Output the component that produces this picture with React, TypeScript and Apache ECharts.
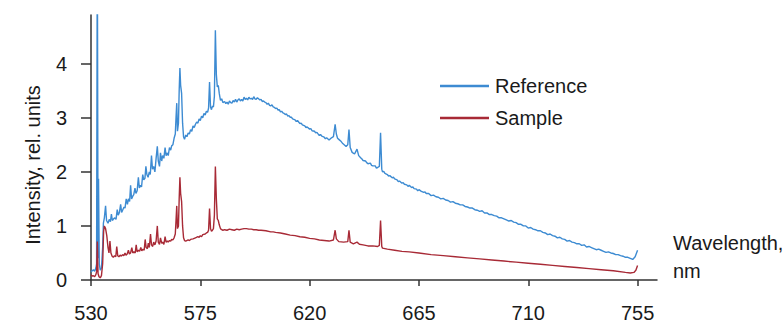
import React, { useEffect, useRef } from "react";
import * as echarts from "echarts";

const seriesNames = ["Reference", "Sample"];
const xTickValues = [530, 575, 620, 665, 710, 755];
const yTickValues = [0, 1, 2, 3, 4];

// [wavelength nm, intensity rel. units]
const reference: [number, number][] = [
  [530, 0.15], [530.5, 0.17], [531, 0.19], [531.5, 0.16], [532, 0.22], [532.3, 0.3], [532.6, 6.5], [532.9, 0.4],
  [533.1, 1.87], [533.4, 0.3], [533.8, 0.18], [534.3, 0.22], [534.8, 0.6], [535.1, 1.05], [535.5, 1.15], [536, 1.37],
  [536.4, 1.1], [537, 1.05], [537.5, 1.12], [538, 1.08], [538.4, 1.22], [538.8, 1.1], [539.3, 1.13], [539.8, 1.15],
  [540.3, 1.12], [540.8, 1.3], [541.2, 1.2], [541.7, 1.25], [542.2, 1.4], [542.6, 1.25], [543.1, 1.3], [543.6, 1.35],
  [544, 1.33], [544.5, 1.5], [545, 1.4], [545.4, 1.5], [545.9, 1.45], [546.3, 1.75], [546.7, 1.5], [547.2, 1.55],
  [547.6, 1.58], [548.1, 1.7], [548.5, 1.6], [549, 1.65], [549.5, 1.9], [549.9, 1.7], [550.4, 1.75], [550.8, 1.72],
  [551.3, 1.95], [551.7, 1.85], [552.2, 1.88], [552.6, 2.1], [553, 1.95], [553.5, 1.9], [554, 2.0], [554.4, 1.95],
  [554.9, 2.3], [555.3, 2.05], [555.8, 2.1], [556.3, 2.0], [556.8, 2.25], [557.3, 2.47], [557.7, 2.2], [558.2, 2.1],
  [558.6, 2.35], [559.1, 2.2], [559.5, 2.3], [560, 2.25], [560.5, 2.45], [560.9, 2.3], [561.4, 2.35], [561.8, 2.3],
  [562.3, 2.45], [562.8, 2.4], [563.2, 2.48], [563.7, 2.5], [564.2, 2.62], [564.7, 2.7], [565, 3.0], [565.3, 3.27],
  [565.6, 2.75], [566, 2.9], [566.3, 3.5], [566.6, 3.92], [566.9, 3.6], [567.3, 3.45], [567.7, 2.9], [568.1, 2.65],
  [568.5, 2.6], [569, 2.68], [569.5, 2.65], [570, 2.72], [570.5, 2.7], [571, 2.78], [571.5, 2.75], [572, 2.85],
  [572.5, 2.82], [573, 2.88], [573.5, 2.92], [574, 2.9], [574.5, 2.98], [575, 2.95], [575.5, 3.03], [576, 3.0],
  [576.5, 3.08], [577, 3.05], [577.5, 3.12], [578, 3.1], [578.4, 3.18], [578.8, 3.66], [579.2, 3.2], [579.6, 3.15],
  [580, 3.22], [580.4, 3.2], [580.8, 3.4], [581.2, 4.62], [581.6, 3.8], [582, 3.57], [582.4, 3.6], [582.8, 3.45],
  [583.3, 3.32], [583.8, 3.35], [584.3, 3.28], [585, 3.3], [585.5, 3.26], [586, 3.29], [586.5, 3.25], [587, 3.31],
  [587.5, 3.28], [588, 3.27], [588.5, 3.32], [589, 3.29], [589.5, 3.34], [590, 3.29], [590.5, 3.33], [591, 3.35],
  [591.5, 3.31], [592, 3.34], [592.5, 3.31], [593, 3.38], [593.5, 3.34], [594, 3.36], [594.5, 3.33], [595, 3.38],
  [595.5, 3.35], [596, 3.36], [596.5, 3.34], [597, 3.39], [597.5, 3.35], [598, 3.34], [598.5, 3.37], [599, 3.35],
  [599.5, 3.33], [600, 3.34], [600.5, 3.3], [601, 3.31], [601.5, 3.29], [602, 3.28], [602.5, 3.25], [603, 3.27],
  [603.5, 3.23], [604, 3.22], [604.5, 3.24], [605, 3.2], [605.5, 3.19], [606, 3.17], [606.5, 3.18], [607, 3.14],
  [607.5, 3.15], [608, 3.11], [608.5, 3.12], [609, 3.09], [609.5, 3.08], [610, 3.06], [610.5, 3.07], [611, 3.03],
  [611.5, 3.04], [612, 3.01], [612.5, 3.01], [613, 2.98], [614, 2.96], [614.5, 2.93], [615, 2.95], [616, 2.89],
  [616.5, 2.9], [617, 2.87], [618, 2.85], [618.5, 2.82], [619, 2.83], [620, 2.79], [620.5, 2.8], [621, 2.76],
  [622, 2.75], [622.5, 2.72], [623, 2.73], [624, 2.67], [624.5, 2.69], [625, 2.66], [626, 2.64], [626.5, 2.61],
  [627, 2.63], [628, 2.59], [629, 2.63], [629.8, 2.65], [630.5, 2.88], [631, 2.7], [631.5, 2.62], [632, 2.6],
  [633, 2.56], [633.5, 2.53], [634, 2.51], [635, 2.47], [635.7, 2.5], [636.2, 2.78], [636.7, 2.45], [637.5, 2.36],
  [638.5, 2.33], [639.5, 2.42], [640.2, 2.3], [641, 2.26], [641.5, 2.24], [642, 2.21], [643, 2.2], [643.5, 2.17],
  [644, 2.15], [645, 2.16], [645.5, 2.12], [646, 2.11], [647, 2.11], [647.5, 2.07], [648, 2.08], [648.7, 2.1],
  [649.2, 2.72], [649.7, 2.05], [650, 2.0], [650.5, 2.01], [651, 1.97], [652, 1.95], [652.5, 1.92], [653, 1.93],
  [654, 1.89], [654.5, 1.9], [655, 1.87], [656, 1.85], [656.5, 1.82], [657, 1.83], [658, 1.79], [658.5, 1.8],
  [659, 1.77], [660, 1.76], [660.5, 1.73], [661, 1.75], [662, 1.71], [662.5, 1.72], [663, 1.69], [664, 1.68],
  [664.5, 1.65], [665, 1.67], [666, 1.64], [667, 1.62], [667.5, 1.63], [668, 1.6], [669, 1.6], [670, 1.56],
  [671, 1.57], [672, 1.54], [673, 1.53], [674, 1.5], [675, 1.51], [676, 1.48], [677, 1.47], [678, 1.44],
  [679, 1.45], [680, 1.42], [681, 1.41], [682, 1.39], [683, 1.39], [684, 1.36], [685, 1.35], [686, 1.33],
  [687, 1.33], [688, 1.3], [689, 1.29], [690, 1.27], [691, 1.28], [692, 1.24], [693, 1.24], [694, 1.21],
  [695, 1.21], [696, 1.19], [697, 1.18], [698, 1.15], [699, 1.15], [700, 1.13], [701, 1.11], [702, 1.09],
  [703, 1.1], [704, 1.07], [705, 1.06], [706, 1.03], [707, 1.03], [708, 1.0], [709, 1.0], [710, 0.96],
  [711, 0.97], [712, 0.94], [713, 0.93], [714, 0.91], [715, 0.91], [716, 0.88], [717, 0.87], [718, 0.84],
  [719, 0.85], [720, 0.82], [721, 0.81], [722, 0.78], [723, 0.79], [724, 0.76], [725, 0.75], [726, 0.72],
  [727, 0.73], [728, 0.7], [729, 0.69], [730, 0.67], [731, 0.67], [732, 0.64], [733, 0.65], [734, 0.61],
  [735, 0.62], [736, 0.6], [737, 0.58], [738, 0.56], [739, 0.57], [740, 0.55], [741, 0.53], [742, 0.51],
  [743, 0.52], [744, 0.5], [745, 0.49], [746, 0.47], [747, 0.47], [748, 0.45], [749, 0.44], [750, 0.42],
  [751, 0.42], [752, 0.4], [753, 0.38], [754, 0.43], [755, 0.55],
];

const sample: [number, number][] = [
  [530, 0.1], [530.5, 0.07], [531, 0.08], [531.5, 0.06], [532, 0.1], [532.3, 0.15], [532.6, 0.71], [532.9, 0.12],
  [533.3, 0.06], [533.8, 0.04], [534.3, 0.08], [534.8, 0.3], [535.2, 0.9], [535.5, 1.0], [536, 0.95], [536.5, 0.82],
  [537, 0.6], [537.4, 0.5], [537.8, 0.72], [538.2, 0.5], [538.7, 0.44], [539.2, 0.42], [539.7, 0.45], [540.2, 0.43],
  [540.6, 0.62], [541, 0.45], [541.5, 0.43], [542, 0.46], [542.5, 0.44], [543, 0.47], [543.5, 0.45], [544, 0.5],
  [544.4, 0.46], [544.9, 0.48], [545.4, 0.55], [545.8, 0.48], [546.3, 0.5], [546.8, 0.6], [547.2, 0.5], [547.7, 0.52],
  [548.2, 0.5], [548.6, 0.65], [549, 0.52], [549.5, 0.55], [550, 0.53], [550.5, 0.6], [550.9, 0.54], [551.4, 0.57],
  [551.9, 0.55], [552.3, 0.75], [552.7, 0.6], [553.2, 0.58], [553.6, 0.68], [554, 0.6], [554.5, 0.85], [554.9, 0.65],
  [555.4, 0.62], [555.8, 0.7], [556.3, 0.65], [556.8, 0.72], [557.3, 1.0], [557.7, 0.7], [558.2, 0.66], [558.6, 0.78],
  [559.1, 0.68], [559.5, 0.7], [560, 0.66], [560.5, 0.8], [560.9, 0.7], [561.4, 0.72], [561.8, 0.7], [562.3, 0.73],
  [562.8, 0.72], [563.2, 0.75], [563.7, 0.74], [564.2, 0.78], [564.7, 0.85], [565, 1.1], [565.3, 1.37], [565.6, 0.95],
  [566, 1.0], [566.3, 1.5], [566.6, 1.9], [566.9, 1.6], [567.3, 1.45], [567.7, 1.0], [568.1, 0.78], [568.5, 0.73],
  [569, 0.72], [570, 0.74], [570.5, 0.73], [571, 0.75], [572, 0.76], [573, 0.78], [574, 0.8], [574.5, 0.79],
  [575, 0.82], [575.5, 0.8], [576, 0.84], [577, 0.85], [577.5, 0.87], [578, 0.88], [578.4, 0.92], [578.8, 1.32],
  [579.2, 0.95], [579.6, 0.9], [580, 0.92], [580.4, 0.95], [580.8, 1.2], [581.2, 2.1], [581.6, 1.5], [582, 1.13],
  [582.4, 1.1], [582.8, 1.02], [583.3, 0.95], [583.8, 0.93], [584.3, 0.92], [585, 0.93], [586, 0.92], [587, 0.94],
  [588, 0.93], [589, 0.92], [590, 0.94], [591, 0.93], [592, 0.94], [593, 0.95], [594, 0.95], [595, 0.94],
  [596, 0.94], [597, 0.93], [598, 0.93], [599, 0.92], [600, 0.92], [602, 0.91], [604, 0.89], [605, 0.89],
  [606, 0.88], [608, 0.87], [610, 0.85], [612, 0.83], [614, 0.82], [616, 0.8], [618, 0.79], [620, 0.77],
  [622, 0.76], [624, 0.74], [626, 0.73], [628, 0.72], [629.8, 0.74], [630.5, 0.92], [631, 0.76], [632, 0.71],
  [634, 0.7], [635.7, 0.71], [636.2, 0.92], [636.7, 0.7], [638, 0.67], [639.5, 0.7], [640.5, 0.66], [642, 0.65],
  [644, 0.63], [646, 0.63], [648, 0.62], [648.7, 0.64], [649.2, 1.1], [649.7, 0.62], [650, 0.59], [652, 0.57],
  [655, 0.55], [658, 0.53], [661, 0.52], [665, 0.5], [670, 0.47], [675, 0.45], [680, 0.43], [685, 0.41],
  [690, 0.39], [695, 0.37], [700, 0.35], [705, 0.33], [710, 0.31], [715, 0.29], [720, 0.27], [725, 0.25],
  [730, 0.23], [735, 0.21], [740, 0.19], [745, 0.17], [750, 0.14], [752, 0.13], [753.5, 0.14], [754.3, 0.18],
  [755, 0.27],
];

const FONT = "'Liberation Sans', Arial, sans-serif";
const TEXT_COLOR = "#1a1a1a";
const AXIS_COLOR = "#333333";
const BLUE = "#3d8bd2";
const RED = "#a82a36";

export default function App() {
  const ref = useRef<HTMLDivElement>(null);

  useEffect(() => {
    if (!ref.current) return;
    const chart = echarts.init(ref.current, undefined, { renderer: "svg" });
    chart.setOption({
      animation: false,
      backgroundColor: "#ffffff",
      textStyle: { fontFamily: FONT },
      grid: { left: 91, top: 15, right: 126, bottom: 41, containLabel: false },
      legend: {
        orient: "vertical",
        left: 440,
        top: 76,
        padding: 0,
        icon: "rect",
        itemWidth: 49,
        itemHeight: 2.5,
        itemGap: 12,
        data: seriesNames,
        textStyle: { fontFamily: FONT, fontSize: 20, color: TEXT_COLOR, lineHeight: 20, padding: [0, 0, 0, 1] },
      },
      xAxis: {
        type: "value",
        min: 530,
        max: 763,
        splitLine: { show: false },
        axisLine: { show: true, onZero: false, lineStyle: { color: AXIS_COLOR, width: 1.5 } },
        axisTick: { show: true, customValues: xTickValues, length: 6, lineStyle: { color: AXIS_COLOR, width: 1.5 } },
        axisLabel: { customValues: xTickValues, fontSize: 20, color: TEXT_COLOR, fontFamily: FONT, margin: 23 },
      },
      yAxis: {
        type: "value",
        min: 0,
        max: 4.9,
        splitLine: { show: false },
        axisLine: { show: true, lineStyle: { color: AXIS_COLOR, width: 1.5 } },
        axisTick: { show: true, customValues: yTickValues, length: 10, lineStyle: { color: AXIS_COLOR, width: 1.5 } },
        axisLabel: { customValues: yTickValues, fontSize: 20, color: TEXT_COLOR, fontFamily: FONT, margin: 24 },
      },
      graphic: [
        {
          type: "text",
          x: 33,
          y: 165,
          rotation: Math.PI / 2,
          style: {
            text: "Intensity, rel. units",
            fontSize: 20,
            fontFamily: FONT,
            fill: TEXT_COLOR,
            textAlign: "center",
            textVerticalAlign: "middle",
          },
        },
        {
          type: "text",
          x: 673,
          y: 243,
          style: { text: "Wavelength,", fontSize: 20, fontFamily: FONT, fill: TEXT_COLOR, textAlign: "left", textVerticalAlign: "middle" },
        },
        {
          type: "text",
          x: 673,
          y: 271,
          style: { text: "nm", fontSize: 20, fontFamily: FONT, fill: TEXT_COLOR, textAlign: "left", textVerticalAlign: "middle" },
        },
      ],
      series: [
        {
          name: seriesNames[0],
          type: "line",
          data: reference,
          showSymbol: false,
          symbol: "none",
          clip: true,
          color: BLUE,
          lineStyle: { color: BLUE, width: 1.4 },
        },
        {
          name: seriesNames[1],
          type: "line",
          data: sample,
          showSymbol: false,
          symbol: "none",
          clip: true,
          color: RED,
          lineStyle: { color: RED, width: 1.4 },
        },
      ],
    });
    return () => chart.dispose();
  }, []);

  return (
    <div
      ref={ref}
      style={{ position: "fixed", left: 0, top: 0, width: 783, height: 323, background: "#fff" }}
    />
  );
}
